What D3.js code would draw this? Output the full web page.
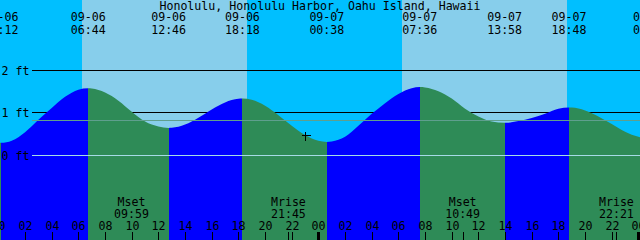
<!DOCTYPE html>
<html>
<head>
<meta charset="utf-8">
<script src="https://cdn.jsdelivr.net/npm/d3@7"></script>
<style>
body { margin:0; background:#fff; }
text { font-family:"DejaVu Sans Mono", monospace; font-size:11.6px; fill:#000; }
</style>
</head>
<body>
<div id="chart-area"></div>
<script>
/*
*    tide chart - Honolulu Harbor, 09-06 / 09-07
*/

var width = 640, height = 240;

var title = "Honolulu, Honolulu Harbor, Oahu Island, Hawaii";

// all times are hours counted from 09-06 00:00
var extremeHours  = [0.2, 6.733, 12.767, 18.3, 24.633, 31.6, 37.967, 42.8, 48.9];
var extremeLevels = [0.30, 1.58, 0.65, 1.34, 0.32, 1.61, 0.77, 1.13, 0.40];
var extremeTypes  = ["L", "H", "L", "H", "L", "H", "L", "H", "L"];
var extremeDates  = ["09-06", "09-06", "09-06", "09-06", "09-07", "09-07", "09-07", "09-07", "09-08"];
var extremeTimes  = ["00:12", "06:44", "12:46", "18:18", "00:38", "07:36", "13:58", "18:48", "00:54"];

// tide height (ft), one reading per hour from 00:00
var readingLevels = [0.305, 0.35, 0.55, 0.84, 1.12, 1.38, 1.55, 1.575, 1.48, 1.29,
                     1.03, 0.80, 0.685, 0.653, 0.73, 0.89, 1.085, 1.25, 1.335, 1.31,
                     1.17, 0.95, 0.70, 0.48, 0.345, 0.33, 0.44, 0.70, 0.98, 1.23,
                     1.45, 1.585, 1.60, 1.51, 1.34, 1.10, 0.92, 0.80, 0.77, 0.81,
                     0.88, 0.98, 1.10, 1.128, 1.06, 0.92, 0.74, 0.56, 0.44];

var sunriseHours = [6.25, 30.25];
var sunsetHours  = [18.67, 42.62];

var moonHours  = [9.983, 21.75, 34.817, 46.35];
var moonEvents = ["Mset", "Mrise", "Mset", "Mrise"];
var moonTimes  = ["09:59", "21:45", "10:49", "22:21"];

var hourTicks  = [0, 2, 4, 6, 8, 10, 12, 14, 16, 18, 20, 22, 24,
                  26, 28, 30, 32, 34, 36, 38, 40, 42, 44, 46, 48];
var levelTicks = [0, 1, 2];
var levelLabels = ["0 ft", "1 ft", "2 ft"];
var mslLevel = 0.82;

var nowHour = 23.03, nowLevel = 0.47;

var colors = {
	night: "#00bfff", day: "#87ceeb",
	rise: "#0000ff", fall: "#2e8b57",
	msl: "#5f9f8e", datum: "#a6dbe6"
};

var svg = d3.select("#chart-area")
	.append("svg")
		.attr("width", width)
		.attr("height", height)
		.style("display", "block");

//scales
var x = d3.scaleLinear()
	.domain([0.12, 48.12])
	.range([0, width]);

var xr = x.copy().interpolate(d3.interpolateRound);

var y = d3.scaleLinear()
	.domain([0, 2])
	.range([155.5, 70.5]);

function crisp(v) { return Math.round(v) - 0.5; }

//sky
svg.append("rect")
	.attr("width", width)
	.attr("height", height)
	.attr("fill", colors.night);

sunriseHours.forEach(function(h, i){
	svg.append("rect")
		.attr("x", xr(h))
		.attr("width", xr(sunsetHours[i]) - xr(h))
		.attr("height", height)
		.attr("fill", colors.day);
});

//depth lines (under the water)
svg.selectAll(".depth")
	.data(levelTicks.filter(function(d){ return d > 0; }))
	.enter().append("line")
		.attr("class", "depth")
		.attr("x1", 32).attr("x2", width)
		.attr("y1", function(d){ return crisp(y(d)); })
		.attr("y2", function(d){ return crisp(y(d)); })
		.attr("stroke", "#000")
		.attr("shape-rendering", "crispEdges");

//tide curve
var tide = readingLevels.map(function(v, i){ return {h: i, v: v}; })
	.concat(extremeHours.map(function(h, i){ return {h: h, v: extremeLevels[i]}; }))
	.sort(function(a, b){ return a.h - b.h; });

var area = d3.area()
	.x(function(d){ return x(d.h); })
	.y0(height)
	.y1(function(d){ return y(d.v); })
	.curve(d3.curveMonotoneX);

svg.append("clipPath")
	.attr("id", "water")
	.append("path")
		.attr("d", area(tide));

var bounds = [x.domain()[0]].concat(extremeHours);
var water = svg.append("g").attr("clip-path", "url(#water)");

extremeHours.forEach(function(h, i){
	water.append("rect")
		.attr("x", xr(bounds[i]))
		.attr("width", xr(h) - xr(bounds[i]))
		.attr("y", 0)
		.attr("height", height)
		.attr("fill", extremeTypes[i] == "H" ? colors.rise : colors.fall);
});

//datum and mean sea level
svg.append("line")
	.attr("x1", 32).attr("x2", width)
	.attr("y1", crisp(y(0))).attr("y2", crisp(y(0)))
	.attr("stroke", colors.datum)
	.attr("shape-rendering", "crispEdges");

svg.append("line")
	.attr("x1", 32).attr("x2", width)
	.attr("y1", crisp(y(mslLevel))).attr("y2", crisp(y(mslLevel)))
	.attr("stroke", colors.msl)
	.attr("shape-rendering", "crispEdges");

//level labels
svg.selectAll(".level")
	.data(levelTicks)
	.enter().append("text")
		.attr("class", "level")
		.attr("x", 1.5)
		.attr("y", function(d){ return crisp(y(d)) + 4.5; })
		.text(function(d, i){ return levelLabels[i]; });

//title and high / low labels
svg.append("text")
	.attr("x", width/2)
	.attr("y", 10)
	.attr("text-anchor", "middle")
	.text(title);

var marks = svg.selectAll(".extreme")
	.data(extremeHours)
	.enter().append("g")
		.attr("class", "extreme")
		.attr("transform", function(d){ return "translate(" + x(d) + ",0)"; });

marks.append("text")
	.attr("y", 21)
	.attr("text-anchor", "middle")
	.text(function(d, i){ return extremeDates[i]; });

marks.append("text")
	.attr("y", 34)
	.attr("text-anchor", "middle")
	.text(function(d, i){ return extremeTimes[i]; });

//hour axis
var xAxisCall = d3.axisTop(xr)
	.tickValues(hourTicks)
	.tickSize(8)
	.tickPadding(2)
	.tickFormat(function(d){ return d3.format("02")(d % 24); });

var xAxis = svg.append("g")
	.attr("transform", "translate(0," + height + ")")
	.call(xAxisCall);

xAxis.select(".domain").remove();
xAxis.attr("font-size", null).attr("font-family", null);
xAxis.selectAll("line")
	.attr("shape-rendering", "crispEdges")
	.attr("stroke-width", function(d){ return d % 24 == 0 ? 3 : 1; });

//moon events
svg.selectAll(".moontick")
	.data(moonHours)
	.enter().append("line")
		.attr("class", "moontick")
		.attr("x1", function(d){ return xr(d) + 0.5; })
		.attr("x2", function(d){ return xr(d) + 0.5; })
		.attr("y1", height - 8).attr("y2", height)
		.attr("stroke", "#000")
		.attr("shape-rendering", "crispEdges");

var moon = svg.selectAll(".moon")
	.data(moonHours)
	.enter().append("g")
		.attr("class", "moon")
		.attr("transform", function(d){ return "translate(" + x(d) + ",0)"; });

moon.append("text")
	.attr("y", 206)
	.attr("text-anchor", "middle")
	.text(function(d, i){ return moonEvents[i]; });

moon.append("text")
	.attr("y", 217.5)
	.attr("text-anchor", "middle")
	.text(function(d, i){ return moonTimes[i]; });

//current time marker
var nx = xr(nowHour) + 0.5, ny = crisp(y(nowLevel));
svg.append("path")
	.attr("d", "M" + (nx-4) + "," + ny + "H" + (nx+5) + "M" + nx + "," + (ny-4) + "V" + (ny+5))
	.attr("stroke", "#000")
	.attr("shape-rendering", "crispEdges");
</script>
</body>
</html>
